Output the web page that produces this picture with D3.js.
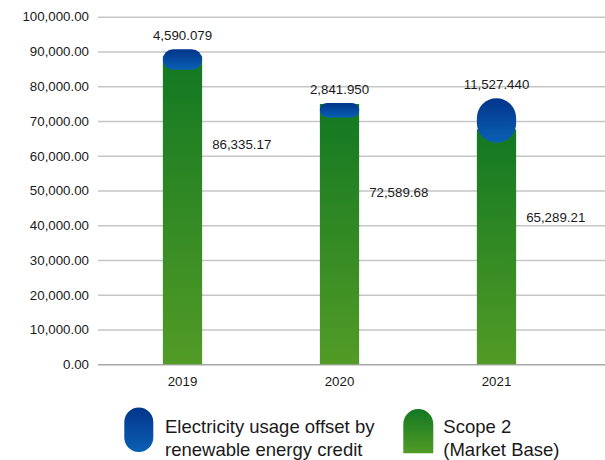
<!DOCTYPE html>
<html><head><meta charset="utf-8">
<script src="https://cdn.jsdelivr.net/npm/d3@7"></script>
<style>
html,body{margin:0;padding:0;background:#fff;}
svg{display:block;font-family:"Liberation Sans",Arial,sans-serif;}
</style></head>
<body>
<svg id="chart" width="605" height="460"></svg>
<script>
const categories = ["2019", "2020", "2021"];
const scope2 = [86335.17, 72589.68, 65289.21];
const offset = [4590.079, 2841.950, 11527.440];
const yTicks = [0, 10000, 20000, 30000, 40000, 50000, 60000, 70000, 80000, 90000, 100000];
const legendLabels = [["Electricity usage offset by", "renewable energy credit"], ["Scope 2", "(Market Base)"]];

const svg = d3.select("#chart");
const W = 605, H = 460;
const plotLeft = 98, plotRight = 605;

const y = d3.scaleLinear().domain([0, 100000]).range([364.3, 16.7]);
const x = d3.scaleBand().domain(categories).range([104, 575]).paddingInner(0.75).paddingOuter(0.375);
const bw = x.bandwidth();

const defs = svg.append("defs");
const gG = defs.append("linearGradient").attr("id", "gGreen").attr("x1", 0).attr("y1", 0).attr("x2", 0).attr("y2", 1);
gG.append("stop").attr("offset", "0%").attr("stop-color", "#127822");
gG.append("stop").attr("offset", "100%").attr("stop-color", "#529b26");
const gB = defs.append("linearGradient").attr("id", "gBlue").attr("x1", 0).attr("y1", 0).attr("x2", 0).attr("y2", 1);
gB.append("stop").attr("offset", "0%").attr("stop-color", "#03358b");
gB.append("stop").attr("offset", "100%").attr("stop-color", "#0a60b4");

// grid
const yAxis = d3.axisLeft(y).tickValues(yTicks).tickFormat(d3.format(",.2f")).tickSize(-(plotRight - plotLeft)).tickPadding(9);
const ga = svg.append("g").attr("transform", `translate(${plotLeft},0)`).call(yAxis);
ga.select(".domain").remove();
ga.selectAll(".tick line").attr("stroke", d => d === 0 ? "#a8a8a8" : "#c6c6c6").attr("stroke-width", 1.4);
ga.selectAll(".tick text").attr("fill", "#1a1a1a").attr("font-size", "13.3px").attr("font-family", "Liberation Sans, Arial, sans-serif");

// x labels
const xAxis = d3.axisBottom(x).tickSize(0).tickPadding(12);
const gx = svg.append("g").attr("transform", `translate(0,${y(0)})`).call(xAxis);
gx.select(".domain").remove();
gx.selectAll(".tick text").attr("fill", "#1a1a1a").attr("font-size", "13.3px").attr("font-family", "Liberation Sans, Arial, sans-serif");

const data = categories.map((c, i) => ({ c, g: scope2[i], b: offset[i] }));

// green bars
svg.append("g").selectAll("rect").data(data).join("rect")
  .attr("x", d => x(d.c)).attr("width", bw)
  .attr("y", d => y(d.g) - 8).attr("height", d => y(0) - y(d.g) + 8)
  .attr("fill", "url(#gGreen)");

// blue capsules
svg.append("g").selectAll("rect").data(data).join("rect")
  .each(function (d) {
    const h = (y(d.g) - y(d.g + d.b)) + 4.5;
    const cy = (y(d.g) + y(d.g + d.b)) / 2 + 3.25;
    const r = Math.min(bw / 2, h / 2);
    d3.select(this).attr("x", x(d.c)).attr("width", bw)
      .attr("y", cy - h / 2).attr("height", h).attr("rx", r).attr("ry", r);
  })
  .attr("fill", "url(#gBlue)");

const fmt3 = d3.format(",.3f"), fmt2 = d3.format(",.2f");
// offset labels
svg.append("g").selectAll("text").data(data).join("text")
  .attr("x", d => x(d.c) + bw / 2).attr("y", d => y(d.g + d.b) - 8)
  .attr("text-anchor", "middle").attr("font-size", "13.3px").attr("fill", "#1a1a1a")
  .text(d => fmt3(d.b));
// scope2 labels
svg.append("g").selectAll("text").data(data).join("text")
  .attr("x", d => x(d.c) + bw + 10).attr("y", d => y(d.g) + 85)
  .attr("font-size", "13.3px").attr("fill", "#1a1a1a")
  .text(d => fmt2(d.g));

// legend
const lg = svg.append("g");
lg.append("rect").attr("x", 124.3).attr("y", 407.5).attr("width", 29).attr("height", 44.5).attr("rx", 14.5).attr("ry", 14.5).attr("fill", "url(#gBlue)");
lg.append("path").attr("d", "M403.3,453.3 V424 A15,15 0 0 1 433.3,424 V453.3 Z").attr("fill", "url(#gGreen)");
const lx = [165, 443.3];
legendLabels.forEach((lines, i) => {
  lines.forEach((t, j) => {
    lg.append("text").attr("x", lx[i]).attr("y", 433 + j * 23).attr("font-size", "18.5px").attr("fill", "#1a1a1a").text(t);
  });
});
</script>
</body></html>
